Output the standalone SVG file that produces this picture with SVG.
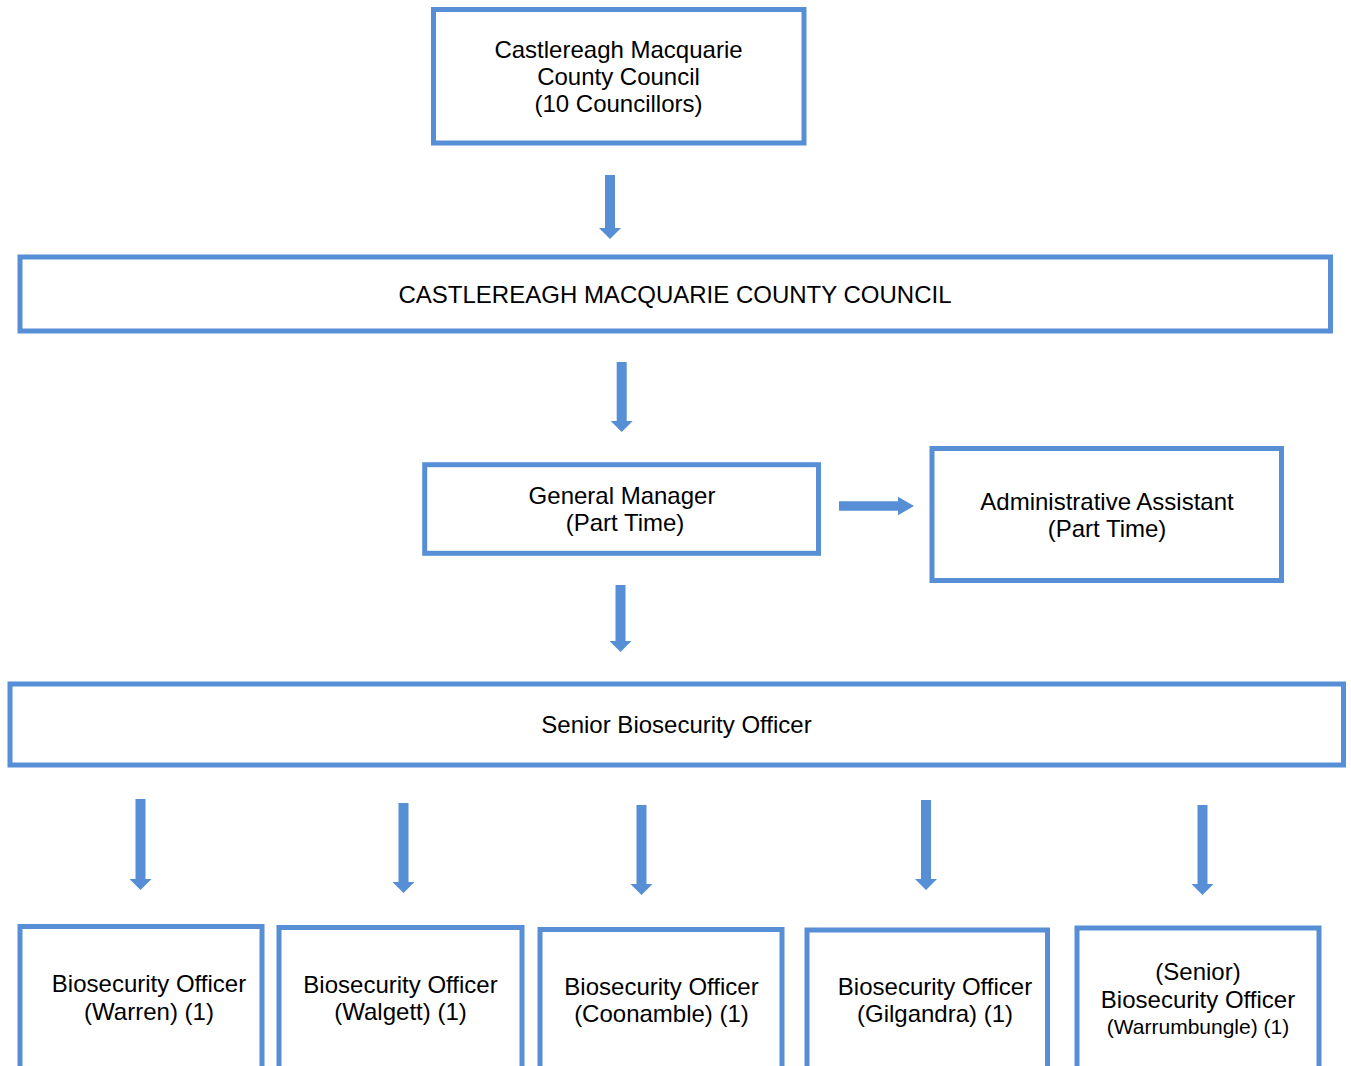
<svg xmlns="http://www.w3.org/2000/svg" width="1351" height="1066" viewBox="0 0 1351 1066">
<style>
.box{fill:#ffffff;stroke:#568fd5;stroke-width:5}
.arr{fill:#568fd5;stroke:none}
text{font-family:"Liberation Sans",Arial,sans-serif;font-size:24px;fill:#000000;text-anchor:middle}
.sm{font-size:21px}
</style>
<rect width="1351" height="1066" fill="#ffffff"/>
<g id="connectors">
<polygon class="arr" points="605,175 615,175 615,228 621,228 610,239 599,228 605,228"/>
<polygon class="arr" points="616.7,362 626.7,362 626.7,421 632.7,421 621.7,432 610.7,421 616.7,421"/>
<polygon class="arr" points="615.5,585 625.5,585 625.5,641 631.5,641 620.5,652 609.5,641 615.5,641"/>
<polygon class="arr" points="839,501.3 898,501.3 898,496.7 914,506 898,515.3 898,510.7 839,510.7"/>
<polygon class="arr" points="135.5,799 145.5,799 145.5,879 151.5,879 140.5,890 129.5,879 135.5,879"/>
<polygon class="arr" points="398.5,803 408.5,803 408.5,882 414.5,882 403.5,893 392.5,882 398.5,882"/>
<polygon class="arr" points="636.5,805 646.5,805 646.5,884 652.5,884 641.5,895 630.5,884 636.5,884"/>
<polygon class="arr" points="921,800 931,800 931,879 937,879 926,890 915,879 921,879"/>
<polygon class="arr" points="1197.5,805 1207.5,805 1207.5,884 1213.5,884 1202.5,895 1191.5,884 1197.5,884"/>
</g>
<g id="council">
<rect class="box" x="433.5" y="9.5" width="370.5" height="133.5"/>
<text x="618.5" y="57.5">Castlereagh Macquarie</text>
<text x="618.5" y="84.5">County Council</text>
<text x="618.5" y="111.5">(10 Councillors)</text>
</g>
<g id="cmcc">
<rect class="box" x="20" y="257" width="1310.5" height="74"/>
<text x="675" y="303">CASTLEREAGH MACQUARIE COUNTY COUNCIL</text>
</g>
<g id="general-manager">
<rect class="box" x="424.7" y="464.7" width="393.8" height="88.6"/>
<text x="622" y="503.5">General Manager</text>
<text x="625" y="530.5">(Part Time)</text>
</g>
<g id="admin-assistant">
<rect class="box" x="932" y="448.5" width="349.5" height="132"/>
<text x="1107" y="510">Administrative Assistant</text>
<text x="1107" y="537">(Part Time)</text>
</g>
<g id="senior-biosecurity">
<rect class="box" x="10" y="684" width="1333.5" height="81"/>
<text x="676.5" y="733">Senior Biosecurity Officer</text>
</g>
<g id="bo-warren">
<rect class="box" x="20" y="926.5" width="242" height="160"/>
<text x="149" y="992">Biosecurity Officer</text>
<text x="149" y="1020">(Warren) (1)</text>
</g>
<g id="bo-walgett">
<rect class="box" x="279" y="927.5" width="243" height="160"/>
<text x="400.5" y="992.5">Biosecurity Officer</text>
<text x="400.5" y="1020">(Walgett) (1)</text>
</g>
<g id="bo-coonamble">
<rect class="box" x="540" y="929.5" width="242" height="160"/>
<text x="661.5" y="995">Biosecurity Officer</text>
<text x="661.5" y="1022">(Coonamble) (1)</text>
</g>
<g id="bo-gilgandra">
<rect class="box" x="807" y="930" width="240.5" height="160"/>
<text x="935" y="995">Biosecurity Officer</text>
<text x="935" y="1022">(Gilgandra) (1)</text>
</g>
<g id="bo-warrumbungle">
<rect class="box" x="1077" y="928" width="242" height="160"/>
<text x="1198" y="980">(Senior)</text>
<text x="1198" y="1008">Biosecurity Officer</text>
<text class="sm" x="1198" y="1034">(Warrumbungle) (1)</text>
</g>
</svg>
